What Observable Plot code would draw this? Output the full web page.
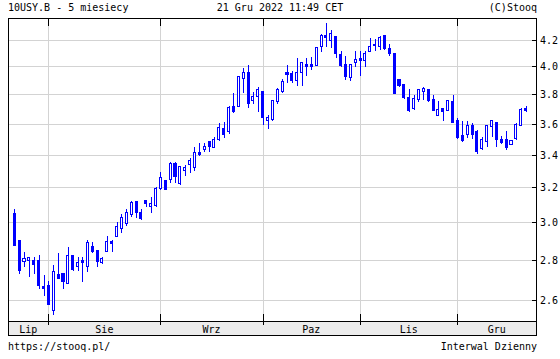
<!DOCTYPE html>
<html><head><meta charset="utf-8">
<script src="https://cdn.jsdelivr.net/npm/d3@7"></script>
<script src="https://cdn.jsdelivr.net/npm/@observablehq/plot@0.6"></script>
<style>
html,body{margin:0;padding:0;background:#fff;}
#chart svg{display:block;}
</style></head><body><div id="chart"></div>
<script>
const dates = [
"2022-07-21","2022-07-22","2022-07-25","2022-07-26","2022-07-27","2022-07-28","2022-07-29",
"2022-08-01","2022-08-02","2022-08-03","2022-08-04","2022-08-05","2022-08-08","2022-08-09","2022-08-10","2022-08-11","2022-08-12","2022-08-15","2022-08-16","2022-08-17","2022-08-18","2022-08-19","2022-08-22","2022-08-23","2022-08-24","2022-08-25","2022-08-26","2022-08-29","2022-08-30","2022-08-31",
"2022-09-01","2022-09-02","2022-09-06","2022-09-07","2022-09-08","2022-09-09","2022-09-12","2022-09-13","2022-09-14","2022-09-15","2022-09-16","2022-09-19","2022-09-20","2022-09-21","2022-09-22","2022-09-23","2022-09-26","2022-09-27","2022-09-28","2022-09-29","2022-09-30",
"2022-10-03","2022-10-04","2022-10-05","2022-10-06","2022-10-07","2022-10-11","2022-10-12","2022-10-13","2022-10-14","2022-10-17","2022-10-18","2022-10-19","2022-10-20","2022-10-21","2022-10-24","2022-10-25","2022-10-26","2022-10-27","2022-10-28","2022-10-31",
"2022-11-01","2022-11-02","2022-11-03","2022-11-04","2022-11-07","2022-11-08","2022-11-09","2022-11-10","2022-11-14","2022-11-15","2022-11-16","2022-11-17","2022-11-18","2022-11-21","2022-11-22","2022-11-23","2022-11-25","2022-11-28","2022-11-29","2022-11-30",
"2022-12-01","2022-12-02","2022-12-05","2022-12-06","2022-12-07","2022-12-08","2022-12-09","2022-12-12","2022-12-13","2022-12-14","2022-12-15","2022-12-16","2022-12-19","2022-12-20","2022-12-21"];

const open = [3.049,2.901,2.791,2.798,2.798,2.798,2.664,2.669,2.550,2.724,2.730,2.682,2.824,2.768,2.798,2.768,2.872,2.848,2.784,2.844,2.898,2.924,2.964,2.992,3.047,3.117,3.058,3.122,3.090,3.094,3.196,3.239,3.248,3.346,3.224,3.303,3.339,3.318,3.413,3.430,3.486,3.447,3.494,3.566,3.548,3.713,3.716,3.909,3.952,3.757,3.785,3.818,3.622,3.625,3.748,3.821,3.953,3.946,3.897,3.958,4.012,4.012,4.009,4.147,4.233,4.199,4.224,4.090,4.012,3.919,4.031,4.061,4.047,4.113,4.164,4.151,4.235,4.132,4.096,3.904,3.867,3.776,3.700,3.762,3.820,3.832,3.762,3.657,3.700,3.688,3.750,3.620,3.520,3.527,3.585,3.548,3.441,3.485,3.581,3.610,3.499,3.494,3.462,3.501,3.585,3.700];
const high = [3.077,2.905,2.841,2.812,2.816,2.826,2.724,2.694,2.773,2.835,2.735,2.867,2.827,2.816,2.816,2.906,2.891,2.853,2.816,2.924,2.902,3.000,3.046,3.076,3.121,3.121,3.075,3.124,3.145,3.204,3.292,3.242,3.351,3.351,3.325,3.337,3.377,3.449,3.473,3.475,3.488,3.513,3.601,3.612,3.722,3.811,3.932,3.989,4.013,3.813,3.848,3.820,3.659,3.762,3.846,3.911,4.013,3.965,4.063,4.035,4.063,4.072,4.141,4.247,4.334,4.282,4.226,4.114,4.078,4.014,4.118,4.118,4.113,4.218,4.208,4.228,4.241,4.170,4.098,3.906,3.869,3.838,3.797,3.837,3.848,3.834,3.797,3.750,3.707,3.762,3.797,3.640,3.614,3.614,3.603,3.559,3.512,3.592,3.625,3.612,3.516,3.552,3.494,3.607,3.704,3.720];
const low = [2.872,2.729,2.761,2.712,2.729,2.652,2.617,2.578,2.527,2.702,2.655,2.680,2.742,2.745,2.687,2.738,2.838,2.763,2.779,2.842,2.839,2.920,2.944,2.982,3.029,3.026,3.011,3.086,3.050,3.086,3.182,3.185,3.228,3.229,3.212,3.270,3.288,3.299,3.388,3.415,3.419,3.446,3.489,3.505,3.533,3.669,3.714,3.808,3.707,3.734,3.681,3.590,3.564,3.614,3.732,3.808,3.882,3.882,3.858,3.857,3.929,3.976,4.008,4.109,4.147,4.140,4.063,3.998,3.902,3.897,3.993,3.929,3.994,4.112,4.118,4.120,4.126,4.075,3.803,3.849,3.770,3.675,3.688,3.746,3.762,3.743,3.686,3.655,3.620,3.686,3.604,3.498,3.477,3.505,3.498,3.405,3.430,3.449,3.514,3.447,3.466,3.426,3.461,3.494,3.581,3.675];
const close = [2.875,2.745,2.805,2.810,2.775,2.672,2.655,2.580,2.742,2.705,2.692,2.824,2.751,2.784,2.784,2.891,2.841,2.791,2.809,2.898,2.888,2.978,3.025,3.053,3.110,3.054,3.021,3.109,3.109,3.196,3.262,3.188,3.346,3.265,3.323,3.318,3.361,3.411,3.399,3.449,3.451,3.494,3.572,3.527,3.711,3.679,3.930,3.952,3.739,3.781,3.834,3.642,3.638,3.755,3.832,3.887,3.941,3.900,3.953,4.026,4.000,4.000,4.140,4.233,4.221,4.250,4.099,4.004,3.925,4.012,4.052,4.047,4.096,4.147,4.156,4.216,4.131,4.096,3.806,3.862,3.778,3.686,3.767,3.832,3.839,3.755,3.688,3.693,3.678,3.755,3.607,3.508,3.490,3.585,3.527,3.419,3.494,3.585,3.618,3.497,3.478,3.447,3.488,3.592,3.693,3.686];

const yTicks = [2.6, 2.8, 3.0, 3.2, 3.4, 3.6, 3.8, 4.0, 4.2];
const monthLabels = ["Lip", "Sie", "Wrz", "Paz", "Lis", "Gru"];
const titleLeft = "10USY.B - 5 miesiecy";
const titleCenter = "21 Gru 2022 11:49 CET";
const titleRight = "(C)Stooq";
const footLeft = "https://stooq.pl/";
const footRight = "Interwal Dzienny";

const BLUE = "#0000ff";
const GRID = "#d3d3d3";
const FONT = "'DejaVu Sans Mono', 'Liberation Mono', monospace";

const data = dates.map((d, i) => ({i, date: d, open: open[i], high: high[i], low: low[i], close: close[i]}));
const monthStarts = [];
dates.forEach((d, i) => { if (i > 0 && d.slice(5, 7) !== dates[i - 1].slice(5, 7)) monthStarts.push(i); });
const xDomain = [-1.29, 107.13];
const bounds = [xDomain[0], ...monthStarts, xDomain[1]];
const months = monthLabels.map((m, k) => ({label: m, mid: (bounds[k] + bounds[k + 1]) / 2}));

function decor(index, scales, values, dim) {
  const {width, height, marginTop, marginRight, marginBottom, marginLeft} = dim;
  const L = marginLeft, R = width - marginRight, T = marginTop, B = height - marginBottom;
  const BB = B + 14;
  const g = d3.create("svg:g").attr("font-family", FONT).attr("font-size", 10)
    .attr("fill", "#000").attr("text-anchor", "start");
  g.append("rect").attr("x", L).attr("y", B).attr("width", R - L).attr("height", BB - B).attr("fill", "#ececec");
  g.append("path").attr("fill", "none").attr("stroke", "#000").attr("shape-rendering", "crispEdges")
    .attr("d", `M${L + 0.5},${T + 0.5}H${R + 0.5}V${BB + 0.5}H${L + 0.5}Z M${L},${B + 0.5}H${R}`);
  for (const m of monthStarts) {
    const x = Math.round(scales.x(m)) + 0.5;
    g.append("path").attr("fill", "none").attr("stroke", "#000").attr("shape-rendering", "crispEdges")
      .attr("d", `M${x},${T}V${T + 8} M${x},${B - 7}V${B + 4}`);
  }
  for (const t of yTicks) {
    const y = Math.round(scales.y(t)) + 0.5;
    g.append("path").attr("stroke", "#000").attr("shape-rendering", "crispEdges").attr("d", `M${R - 4},${y}H${R}`);
    g.append("text").attr("x", R + 4).attr("y", y).attr("dy", "0.35em").text(t.toFixed(1));
  }
  for (const m of months) {
    g.append("text").attr("x", scales.x(m.mid)).attr("y", B + 11.5).attr("text-anchor", "middle").text(m.label);
  }
  g.append("text").attr("x", L).attr("y", 11).attr("text-anchor", "start").text(titleLeft);
  g.append("text").attr("x", width / 2).attr("y", 11).attr("text-anchor", "middle").text(titleCenter);
  g.append("text").attr("x", R + 1).attr("y", 11).attr("text-anchor", "end").text(titleRight);
  g.append("text").attr("x", L).attr("y", 350).attr("text-anchor", "start").text(footLeft);
  g.append("text").attr("x", R + 1).attr("y", 350).attr("text-anchor", "end").text(footRight);
  return g.node();
}

const chart = Plot.plot({
  width: 560,
  height: 359,
  marginTop: 18,
  marginBottom: 38,
  marginLeft: 8,
  marginRight: 24,
  style: {background: "#fff", color: "#000"},
  x: {type: "linear", domain: xDomain, axis: null},
  y: {type: "log", domain: [2.5013, 4.3739], axis: null},
  marks: [
    Plot.ruleY(yTicks, {y: d => d, stroke: GRID, shapeRendering: "crispEdges"}),
    Plot.ruleX(monthStarts, {x: d => d, stroke: GRID, shapeRendering: "crispEdges"}),
    Plot.ruleX(data, {x: "i", y1: "low", y2: "high", stroke: BLUE, strokeWidth: 1, shapeRendering: "crispEdges"}),
    Plot.rect(data, {x1: d => d.i - 0.21, x2: d => d.i + 0.21, y1: "open", y2: "close",
      fill: d => d.close < d.open ? BLUE : "#fff", stroke: BLUE, strokeWidth: 1, shapeRendering: "crispEdges"}),
    decor
  ]
});
document.getElementById("chart").appendChild(chart);
</script>
</body></html>
